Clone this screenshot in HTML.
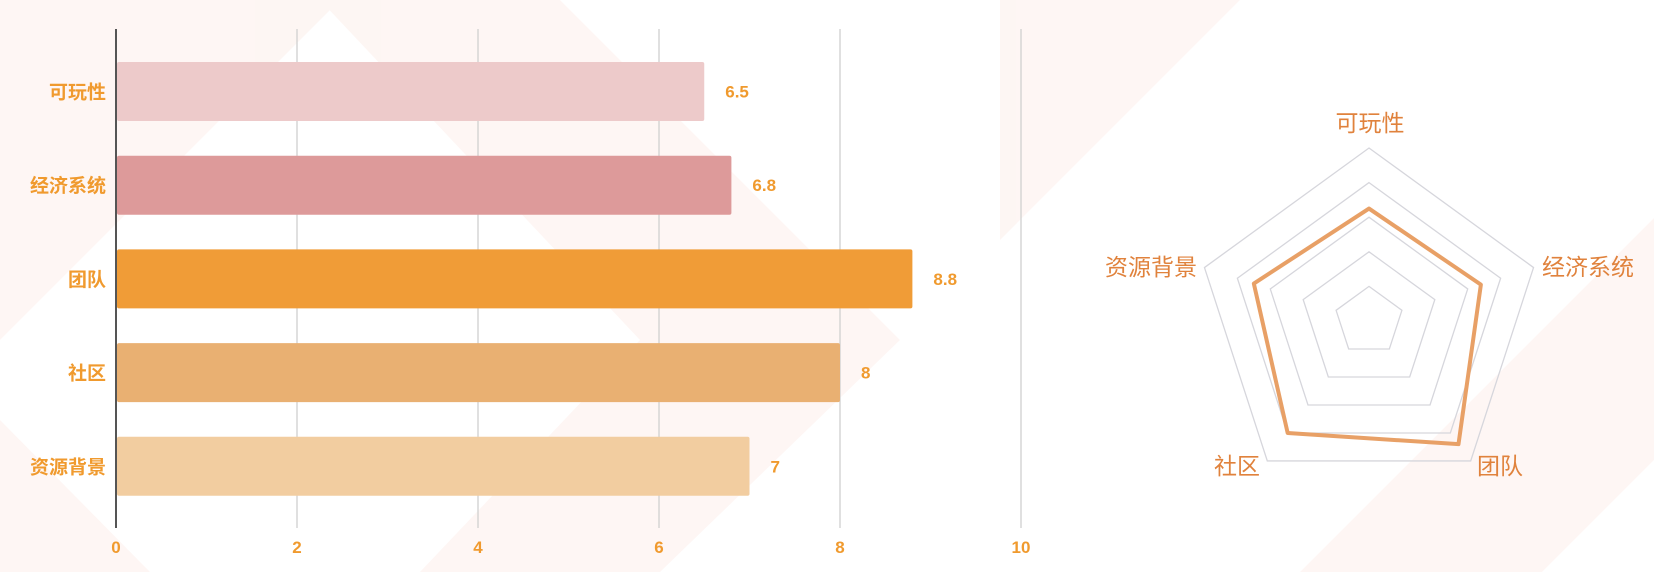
<!DOCTYPE html>
<html><head><meta charset="utf-8"><style>
html,body{margin:0;padding:0;background:#fff;width:1654px;height:572px;overflow:hidden;}
body{position:relative;font-family:"Liberation Sans","Noto Sans CJK SC",sans-serif;}
svg{position:absolute;left:0;top:0;overflow:hidden;}
</style></head><body>
<svg id="chart" width="1654" height="572" viewBox="0 0 1654 572">
<g id="wm" fill="#fbe6df" opacity="0.35">
<polygon points="0,0 340,0 0,340"/>
<polygon points="0,420 150,572 0,572"/>
<polygon points="320,0 560,0 900,340 660,572 420,572 640,340"/>
<polygon points="1000,0 1240,0 1000,240"/>
<polygon points="1300,572 1654,218 1654,460 1542,572"/>
</g>
<g id="bars"></g>
<g id="radar"></g>
</svg>
<script>
const categories=["可玩性","经济系统","团队","社区","资源背景"];
const values=[6.5,6.8,8.8,8,7];
const ticks=[0,2,4,6,8,10];
const barColors=["#edcaca","#dd9a9a","#f09c37","#e9b072","#f2cda0"];
const NS="http://www.w3.org/2000/svg";
function mk(tag,attrs,parent){const e=document.createElementNS(NS,tag);for(const k in attrs)e.setAttribute(k,attrs[k]);parent.appendChild(e);return e;}
const bx=v=>116+v*90.5;
const by=i=>62+i*93.7;
const bh=59;
const bars=document.getElementById('bars');
ticks.forEach(t=>{
  const l=mk('line',{x1:bx(t),x2:bx(t),y1:29,y2:528,stroke:t===0?'#555':'#d0d0d0','stroke-width':t===0?2:1.3},bars);
  
  
  const tx=mk('text',{x:bx(t),y:553,'text-anchor':'middle',fill:'#f09a2e','font-size':17,'font-weight':'bold'},bars);
  tx.textContent=t;
  
  
});
categories.forEach((c,i)=>{
  const r=mk('rect',{x:bx(0)+1,y:by(i),width:bx(values[i])-bx(0)-1,height:bh,rx:2,fill:barColors[i]},bars);
  
  
  const lb=mk('text',{x:106,y:by(i)+bh/2+7,'text-anchor':'end',fill:'#f09a2e','font-size':19,'font-weight':'bold'},bars);
  lb.textContent=c;
  
  
  const vl=mk('text',{x:bx(values[i])+21,y:by(i)+bh/2+6,fill:'#f09a2e','font-size':17,'font-weight':'bold'},bars);
  vl.textContent=values[i];
  
  
});
const radar=document.getElementById('radar');
const cx=1369,cy=321,R=173,maxV=10;
const pt=(i,v)=>{const a=-Math.PI/2+i*2*Math.PI/5;const r=R*v/maxV;return [cx+r*Math.cos(a),cy+r*Math.sin(a)];};
[2,4,6,8,10].forEach(lv=>{
  const p=categories.map((c,i)=>pt(i,lv).join(',')).join(' ');
  const g=mk('polygon',{points:p,fill:'none',stroke:'#d6d6dc','stroke-width':1.3},radar);
  
  
});
const dp=values.map((v,i)=>pt(i,v).join(',')).join(' ');
const poly=mk('polygon',{points:dp,fill:'none',stroke:'#e8a066','stroke-width':4,'stroke-linejoin':'round'},radar);


const rl=[[1370,131,'middle'],[1542,275,'start'],[1500,474,'middle'],[1237,474,'middle'],[1197,275,'end']];
categories.forEach((c,i)=>{
  const t=mk('text',{x:rl[i][0],y:rl[i][1],'text-anchor':rl[i][2],fill:'#e0823c','font-size':23},radar);
  t.textContent=c;
  
  
});
</script>
</body></html>
